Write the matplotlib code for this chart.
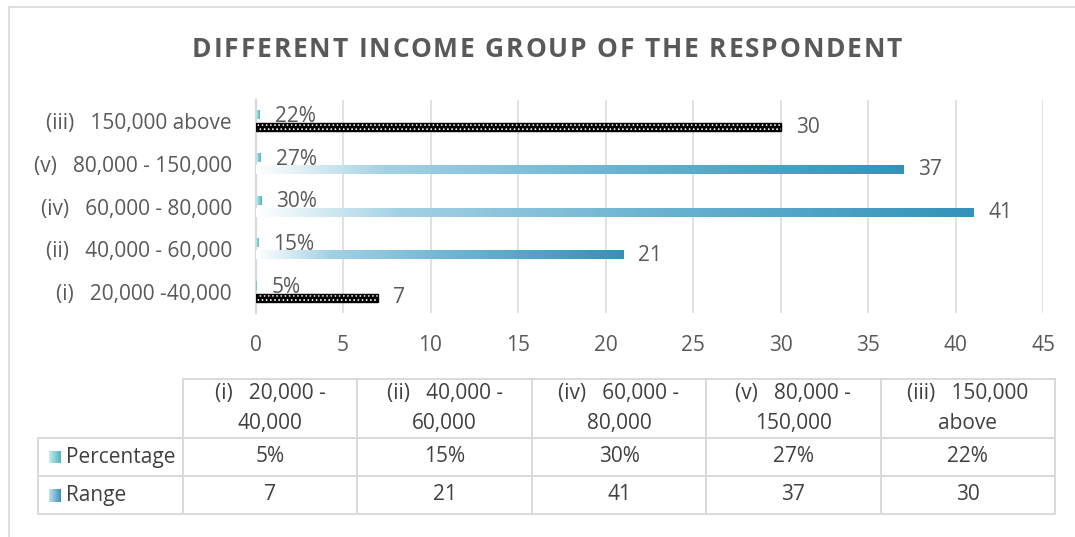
import numpy as np
import matplotlib

matplotlib.use("Agg")
from matplotlib import pyplot as plt
from matplotlib.colors import LinearSegmentedColormap
from matplotlib.lines import Line2D
from matplotlib.transforms import Affine2D

# ---- data -----------------------------------------------------------------
categories = [
    "(i)   20,000 -40,000",
    "(ii)   40,000 - 60,000",
    "(iv)   60,000 - 80,000",
    "(v)   80,000 - 150,000",
    "(iii)   150,000 above",
]
table_headers = [
    "(i)   20,000 -\n40,000",
    "(ii)   40,000 -\n60,000",
    "(iv)   60,000 -\n80,000",
    "(v)   80,000 -\n150,000",
    "(iii)   150,000\nabove",
]
percentage = [5, 15, 30, 27, 22]
range_counts = [7, 21, 41, 37, 30]
series_names = ["Percentage", "Range"]
x_ticks = [0, 5, 10, 15, 20, 25, 30, 35, 40, 45]
title = "DIFFERENT INCOME GROUP OF THE RESPONDENT"

# ---- style ----------------------------------------------------------------
W, H = 1075, 537
GRID = "#d9d9d9"
TEXT = "#595959"
TABLE_TEXT = "#404040"
FS = 15
plt.rcParams["font.family"] = ["Open Sans", "DejaVu Sans"]
plt.rcParams["hatch.linewidth"] = 0.7

range_cmap = LinearSegmentedColormap.from_list(
    "range_grad",
    [(0.0, "#ffffff"), (0.2, "#a3d1e4"), (0.55, "#6cb3d2"), (1.0, "#3492ba")],
)
perc_cmap = LinearSegmentedColormap.from_list(
    "perc_grad", [(0.0, "#c9ecef"), (1.0, "#4db5bf")]
)
range_key_cmap = LinearSegmentedColormap.from_list("range_key", ["#c4e0ee", "#3a8fbb"])
dotted_groups = {0, 4}  # (i) and (iii) are drawn with a dotted black fill

fig = plt.figure(figsize=(W / 100, H / 100), dpi=100)
px = Affine2D().scale(1, -1).translate(0, H)  # image pixel coords, top-left origin

# outer chart border (top + left visible)
fig.add_artist(Line2D([9, W], [7, 7], transform=px, color=GRID, lw=1.2))
fig.add_artist(Line2D([9, 9], [7, H], transform=px, color=GRID, lw=1.2))

# ---- bar chart ------------------------------------------------------------
ax_left, ax_right, ax_top, ax_bottom = 255.5, 1043, 100, 313
ax = fig.add_axes(
    [ax_left / W, 1 - ax_bottom / H, (ax_right - ax_left) / W, (ax_bottom - ax_top) / H]
)

y = np.arange(len(categories))
bar_h = 0.19
off = 0.14
grad = np.linspace(0, 1, 256).reshape(1, -1)

for i, (p, r) in enumerate(zip(percentage, range_counts)):
    yp = y[i] + off
    yr = y[i] - off
    # percentage bar (tiny, in fraction units)
    ax.imshow(grad, extent=(0, p / 100, yp - bar_h / 2, yp + bar_h / 2),
              cmap=perc_cmap, aspect="auto", zorder=3)
    # range bar
    if i in dotted_groups:
        ax.barh(yr, r, height=bar_h, color="black", edgecolor="white",
                linewidth=0, hatch="....", zorder=3)
        ax.barh(yr, r, height=bar_h, fill=False, edgecolor="black",
                linewidth=1.0, zorder=4)
    else:
        ax.imshow(grad, extent=(0, r, yr - bar_h / 2, yr + bar_h / 2),
                  cmap=range_cmap, aspect="auto", interpolation="bilinear", zorder=3)

    ax.annotate(f"{p}%", (p / 100, yp), xytext=(11, -1), textcoords="offset points",
                ha="left", va="center", fontsize=FS, color=TEXT, zorder=5)
    ax.annotate(f"{r}", (r, yr), xytext=(11, 0), textcoords="offset points",
                ha="left", va="center", fontsize=FS, color=TEXT, zorder=5)

ax.set_xlim(0, 45)
ax.set_ylim(-0.5, len(categories) - 0.5)
ax.set_xticks(x_ticks)
ax.set_yticks(y)
ax.set_yticklabels(categories)
ax.tick_params(axis="both", length=0, labelsize=FS, labelcolor=TEXT)
ax.tick_params(axis="x", pad=16)
ax.tick_params(axis="y", pad=17)
ax.xaxis.grid(True, color=GRID, lw=1.1)
ax.set_axisbelow(True)
for side in ("top", "right", "bottom"):
    ax.spines[side].set_visible(False)
ax.spines["left"].set_color(GRID)
ax.spines["left"].set_linewidth(1.6)

# ---- title with letter spacing ---------------------------------------------
renderer = fig.canvas.get_renderer()
title_kw = dict(fontsize=19, fontweight="bold", color=TEXT)
probe = fig.text(0, 0, "", **title_kw)


def advance(s):
    probe.set_text("|" + s + "|")
    return probe.get_window_extent(renderer).width


base = advance("")
lefts = [advance(title[:k]) - base for k in range(len(title))]
natural = advance(title) - base
probe.remove()
target_width = 710
track = (target_width - natural) / (len(title) - 1)
x0 = 547 - target_width / 2
for k, ch in enumerate(title):
    if ch != " ":
        fig.text(x0 + lefts[k] + track * k, 57, ch, transform=px,
                 ha="left", va="baseline", **title_kw)

# ---- data table -------------------------------------------------------------
col_edges = np.linspace(183, 1055, len(table_headers) + 1)
row_edges = [379, 438, 476, 514]
legend_left = 38
line_kw = dict(transform=px, color=GRID, lw=1.4)

fig.add_artist(Line2D([col_edges[0], col_edges[-1]], [row_edges[0]] * 2, **line_kw))
for ry in row_edges[1:]:
    fig.add_artist(Line2D([legend_left, col_edges[-1]], [ry] * 2, **line_kw))
for cx in col_edges:
    fig.add_artist(Line2D([cx, cx], [row_edges[0], row_edges[-1]], **line_kw))
fig.add_artist(Line2D([legend_left] * 2, [row_edges[1], row_edges[-1]], **line_kw))

centers = (col_edges[:-1] + col_edges[1:]) / 2
for cx, head in zip(centers, table_headers):
    fig.text(cx, (row_edges[0] + row_edges[1]) / 2, head, transform=px, ha="center",
             va="center", fontsize=FS, color=TABLE_TEXT, linespacing=1.55)

rows = [[f"{p}%" for p in percentage], [f"{r}" for r in range_counts]]
row_cmaps = [perc_cmap, range_key_cmap]
for j, (name, vals, cmap) in enumerate(zip(series_names, rows, row_cmaps)):
    cy = (row_edges[j + 1] + row_edges[j + 2]) / 2
    for cx, v in zip(centers, vals):
        fig.text(cx, cy, v, transform=px, ha="center", va="center",
                 fontsize=FS, color=TABLE_TEXT)
    fig.text(66, cy, name, transform=px, ha="left", va="center",
             fontsize=FS, color=TABLE_TEXT)
    key = fig.add_axes([49 / W, 1 - (cy + 6.5) / H, 12 / W, 13 / H])
    key.imshow(grad, cmap=cmap, aspect="auto")
    key.set_axis_off()

fig.savefig("out.png", dpi=100)
